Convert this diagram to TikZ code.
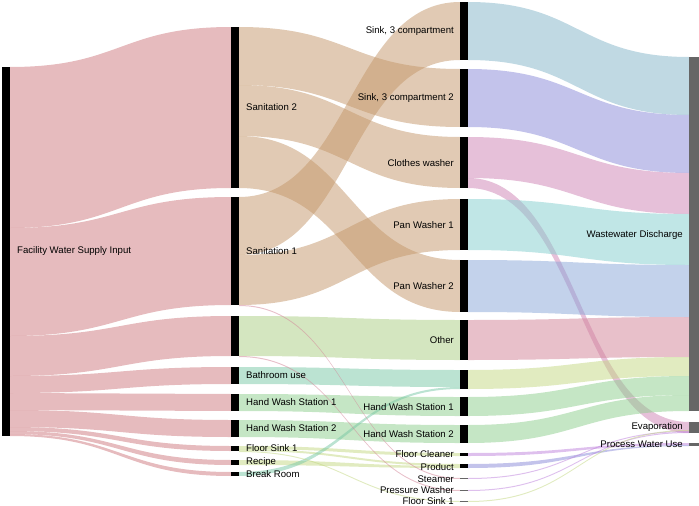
\documentclass[tikz,border=0pt]{standalone}
\usepackage{fontspec}
\setmainfont{Liberation Sans}
\begin{document}
\begin{tikzpicture}[x=1pt,y=-1pt,font=\fontsize{9.6}{11}\selectfont,
 lab/.style={inner sep=0pt,anchor=west},
 labr/.style={inner sep=0pt,anchor=east},
 bar/.style={fill=black},
 gbar/.style={fill=black!60}]
\useasboundingbox (0,0) rectangle (699,506);
\definecolor{cPink}{RGB}{205,120,125}
\definecolor{cBeige}{RGB}{195,150,105}
\definecolor{cGreen}{RGB}{170,205,130}
\definecolor{cTeal}{RGB}{120,200,165}
\definecolor{cBlue}{RGB}{130,180,200}
\definecolor{cPurp}{RGB}{135,135,215}
\definecolor{cMag}{RGB}{205,130,180}
\definecolor{cCyan}{RGB}{130,205,205}
\definecolor{cSky}{RGB}{135,165,215}
\definecolor{cRose}{RGB}{210,130,150}
\definecolor{cYel}{RGB}{195,215,130}
\definecolor{cHW}{RGB}{140,205,140}
\definecolor{cLil}{RGB}{190,130,220}
\newcommand\rib[7]{\fill[#1,fill opacity=0.5] (#2,#3) .. controls ({(#2+#5)/2},#3) and ({(#2+#5)/2},#6) .. (#5,#6) -- (#5,#7) .. controls ({(#2+#5)/2},#7) and ({(#2+#5)/2},#4) .. (#2,#4) -- cycle;}
% col0 -> col1
\rib{cPink}{10}{67}{228}{231}{27}{188}
\rib{cPink}{10}{228}{336}{231}{197}{305}
\rib{cPink}{10}{336}{376}{231}{316}{356}
\rib{cPink}{10}{376}{393}{231}{367}{384}
\rib{cPink}{10}{393}{410}{231}{394}{411}
\rib{cPink}{10}{410}{427}{231}{420}{437}
\rib{cPink}{10}{427}{431}{231}{446}{451}
\rib{cPink}{10}{431}{434}{231}{460}{465}
\rib{cPink}{10}{434}{436}{231}{472}{476}
% col1 -> col2
\rib{cBeige}{239}{27}{85}{460}{69}{127}
\rib{cBeige}{239}{85}{136}{460}{137}{188}
\rib{cBeige}{239}{136}{188}{460}{260}{312}
\rib{cBeige}{239}{197}{255}{460}{2}{60}
\rib{cBeige}{239}{255}{305}{460}{199}{250}
\rib{cGreen}{239}{316}{356}{460}{320}{360}
\rib{cTeal}{239}{367}{384}{460}{370}{387}
\rib{cHW}{239}{394}{411}{460}{397}{416}
\rib{cHW}{239}{420}{437}{460}{425}{443}
\rib{cYel}{239}{446}{449}{460}{453}{456}
\rib{cYel}{239}{449}{451}{460}{464}{466}
\rib{cYel}{239}{460}{465}{460}{466}{468}
\rib{cTeal}{239}{472}{476}{460}{387}{389}
\rib{cRose}{239}{305}{306}{460}{478}{479}
\rib{cRose}{239}{356}{357}{460}{490}{491}
\rib{cYel}{239}{451}{452}{460}{501}{502}
% col2 -> col3
\rib{cBlue}{468}{2}{60}{689}{57}{115}
\rib{cPurp}{468}{69}{127}{689}{115}{173}
\rib{cMag}{468}{137}{178}{689}{173}{214}
\rib{cMag}{468}{178}{188}{689}{422}{433}
\rib{cCyan}{468}{199}{250}{689}{214}{265}
\rib{cSky}{468}{260}{312}{689}{265}{317}
\rib{cRose}{468}{320}{360}{689}{317}{357}
\rib{cYel}{468}{370}{389}{689}{357}{376}
\rib{cHW}{468}{397}{416}{689}{376}{395}
\rib{cHW}{468}{425}{443}{689}{395}{411}
\rib{cLil}{468}{453}{456}{689}{443}{445}
\rib{cPurp}{468}{464}{468}{689}{445}{446}
\rib{cLil}{468}{478}{479}{689}{431}{432}
\rib{cLil}{468}{490}{491}{689}{432}{433}
\rib{cYel}{468}{501}{502}{689}{430}{431}
% bars
\fill[bar] (2,67) rectangle (10,436);
\fill[bar] (231,27) rectangle (239,188);
\fill[bar] (231,197) rectangle (239,305);
\fill[bar] (231,316) rectangle (239,356);
\fill[bar] (231,367) rectangle (239,384);
\fill[bar] (231,394) rectangle (239,411);
\fill[bar] (231,420) rectangle (239,437);
\fill[bar] (231,446) rectangle (239,451);
\fill[bar] (231,460) rectangle (239,465);
\fill[bar] (231,472) rectangle (239,476);
\fill[bar] (460,2) rectangle (468,60);
\fill[bar] (460,69) rectangle (468,127);
\fill[bar] (460,137) rectangle (468,188);
\fill[bar] (460,199) rectangle (468,250);
\fill[bar] (460,260) rectangle (468,312);
\fill[bar] (460,320) rectangle (468,360);
\fill[bar] (460,370) rectangle (468,389);
\fill[bar] (460,397) rectangle (468,416);
\fill[bar] (460,425) rectangle (468,443);
\fill[bar] (460,453) rectangle (468,456);
\fill[bar] (460,464) rectangle (468,468);
\fill[gbar] (460,478) rectangle (468,479);
\fill[gbar] (460,490) rectangle (468,491);
\fill[gbar] (460,501) rectangle (468,502);
\fill[gbar] (689,57) rectangle (699,411);
\fill[gbar] (689,422) rectangle (699,433);
\fill[gbar] (689,443) rectangle (699,446);
% labels
\node[lab] (n0) at (17,251) {Facility Water Supply Input};
\node[lab] (a1) at (246,107) {Sanitation 2};
\node[lab] (a2) at (246,251) {Sanitation 1};
\node[lab] (a3) at (246,375) {Bathroom use};
\node[lab] (a4) at (246,402) {Hand Wash Station 1};
\node[lab] (a5) at (246,428) {Hand Wash Station 2};
\node[lab] (a6) at (246,448) {Floor Sink 1};
\node[lab] (a7) at (246,462) {Recipe};
\node[lab] (a8) at (246,474) {Break Room};
\node[labr] (b1) at (454,31) {Sink, 3 compartment};
\node[labr] (b2) at (454,98) {Sink, 3 compartment 2};
\node[labr] (b3) at (454,163) {Clothes washer};
\node[labr] (b4) at (454,225) {Pan Washer 1};
\node[labr] (b5) at (454,286) {Pan Washer 2};
\node[labr] (b6) at (454,340) {Other};
\node[labr] (b7) at (454,407) {Hand Wash Station 1};
\node[labr] (b8) at (454,434) {Hand Wash Station 2};
\node[labr] (b9) at (454,454) {Floor Cleaner};
\node[labr] (b10) at (454,467) {Product};
\node[labr] (b11) at (454,479) {Steamer};
\node[labr] (b12) at (454,490) {Pressure Washer};
\node[labr] (b13) at (454,501) {Floor Sink 1};
\node[labr] (c1) at (683,235) {Wastewater Discharge};
\node[labr] (c2) at (683,427) {Evaporation};
\node[labr] (c3) at (683,444) {Process Water Use};
\end{tikzpicture}
\end{document}
